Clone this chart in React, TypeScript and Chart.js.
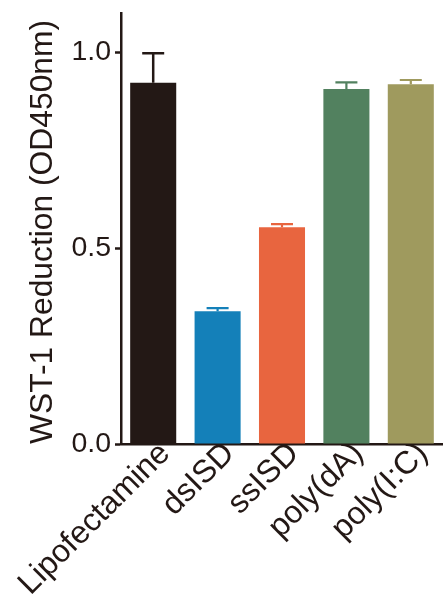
import React, { useEffect, useRef } from "react";
import { Chart, registerables } from "chart.js";

Chart.register(...registerables);

const categories = ["Lipofectamine", "dsISD", "ssISD", "poly(dA)", "poly(I:C)"];
const values = [0.922, 0.339, 0.553, 0.906, 0.918];
const errors = [0.075, 0.008, 0.008, 0.017, 0.011];
const barColors = ["#231815", "#1480b9", "#e8653f", "#52815f", "#9f9a5e"];
const yTicks = [0, 0.5, 1.0];
const yTitle = "WST-1 Reduction (OD450nm)";

const FONT = "'Liberation Sans', Arial, sans-serif";

const errorBarPlugin = {
  id: "errorBars",
  afterDatasetsDraw(chart: any) {
    const { ctx } = chart;
    const meta = chart.getDatasetMeta(0);
    const yScale = chart.scales.y;
    ctx.save();
    meta.data.forEach((bar: any, i: number) => {
      const x = bar.x;
      const yTop = yScale.getPixelForValue(values[i] + errors[i]);
      const yBase = yScale.getPixelForValue(values[i]);
      const cap = 11;
      ctx.strokeStyle = barColors[i];
      ctx.lineWidth = i === 0 ? 2.5 : 2.2;
      ctx.lineCap = "butt";
      ctx.beginPath();
      ctx.moveTo(x, yBase);
      ctx.lineTo(x, yTop);
      ctx.moveTo(x - cap, yTop);
      ctx.lineTo(x + cap, yTop);
      ctx.stroke();
    });
    ctx.restore();
  },
};

export default function App() {
  const ref = useRef<HTMLCanvasElement | null>(null);
  useEffect(() => {
    if (!ref.current) return;
    const chart = new Chart(ref.current, {
      type: "bar",
      data: {
        labels: categories,
        datasets: [
          {
            data: values,
            backgroundColor: barColors,
            borderWidth: 0,
            barPercentage: 0.715,
            categoryPercentage: 1,
          },
        ],
      },
      options: {
        responsive: false,
        animation: false,
        devicePixelRatio: 1,
        layout: { padding: { top: 13, right: 0, bottom: 0, left: 0 } },
        plugins: { legend: { display: false }, tooltip: { enabled: false } },
        scales: {
          x: {
            grid: { display: false, drawTicks: false },
            border: { display: true, color: "#231815", width: 2.5 },
            ticks: {
              maxRotation: 45,
              minRotation: 45,
              autoSkip: false,
              padding: -9,
              labelOffset: 12,
              color: "#231815",
              font: { family: FONT, size: 32 },
            },
            afterFit: (s: any) => {
              s.height = 159;
              s.paddingLeft = 0;
              s.paddingRight = 0;
            },
          },
          y: {
            min: 0,
            max: 1.1,
            grid: {
              drawOnChartArea: false,
              drawTicks: true,
              tickLength: 6,
              tickWidth: 2.5,
              tickColor: "#231815",
            },
            border: { display: true, color: "#231815", width: 2.5 },
            afterBuildTicks: (s: any) => {
              s.ticks = yTicks.map((v) => ({ value: v }));
            },
            ticks: {
              padding: 4,
              color: "#231815",
              font: { family: FONT, size: 28.5 },
              callback: (v: any) => Number(v).toFixed(1),
            },
            title: {
              display: true,
              text: yTitle,
              align: "start",
              color: "#231815",
              font: { family: FONT, size: 31.8 },
              padding: { top: 24, bottom: 0 },
            },
            afterFit: (s: any) => {
              s.width = 121;
              s.paddingTop = 0;
              s.paddingBottom = 0;
            },
          },
        },
      },
      plugins: [errorBarPlugin],
    });
    return () => chart.destroy();
  }, []);
  return (
    <div style={{ position: "absolute", left: 0, top: 0, width: 443, height: 603, background: "#fff" }}>
      <canvas ref={ref} width={443} height={603} />
    </div>
  );
}
